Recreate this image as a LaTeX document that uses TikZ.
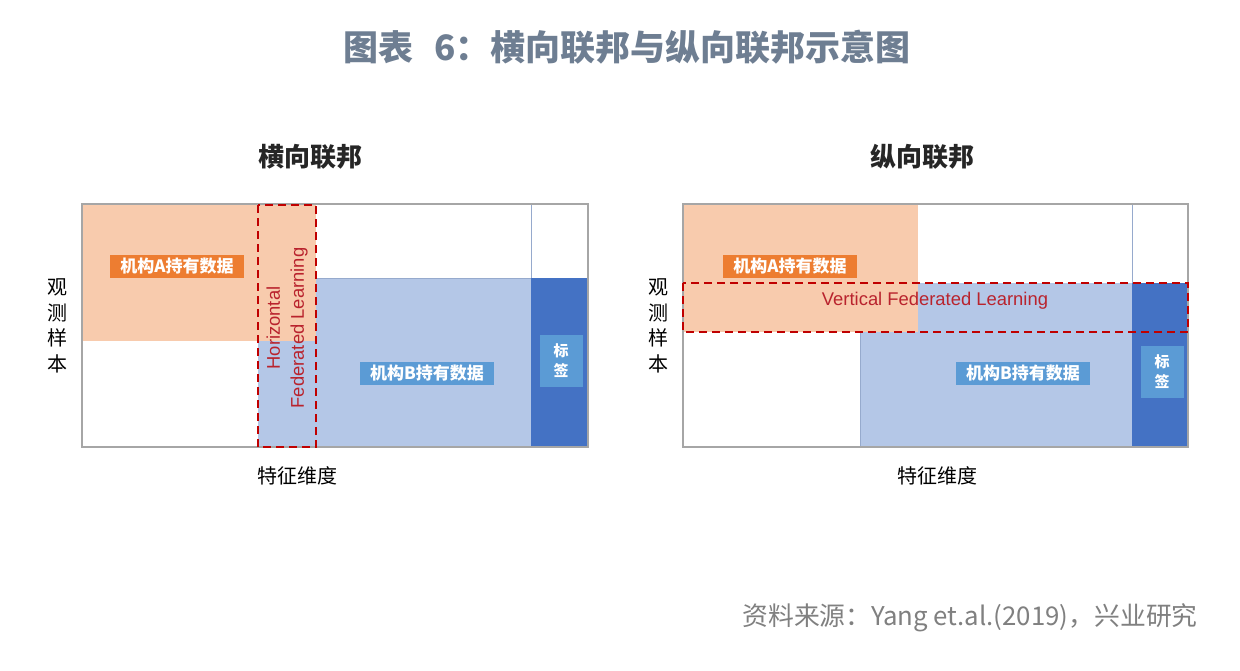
\documentclass[tikz,border=0pt]{standalone}
\usepackage{fontspec}
\setmainfont{Liberation Sans}
\newfontfamily\cjk{Noto Sans CJK SC}
\usepackage{tikz}

\definecolor{orgLight}{RGB}{248,203,173}
\definecolor{orgTag}{RGB}{237,125,49}
\definecolor{bluLight}{RGB}{180,199,231}
\definecolor{bluDark}{RGB}{68,114,196}
\definecolor{bluTag}{RGB}{91,155,213}
\definecolor{redDash}{RGB}{192,0,0}
\definecolor{redText}{RGB}{185,35,45}
\definecolor{frameCol}{RGB}{166,166,166}
\definecolor{gridCol}{RGB}{150,170,205}
\definecolor{titleCol}{RGB}{110,126,146}
\definecolor{srcCol}{RGB}{128,128,128}

\begin{document}
\begin{tikzpicture}[
	x=0.5pt, y=-0.5pt,
	tagbox/.style={inner sep=0pt, minimum width=67pt, minimum height=11.5pt, text=white, font=\cjk\bfseries\fontsize{8.5}{10}\selectfont},
	labbox/.style={fill=bluTag, inner sep=0pt, minimum width=21.5pt, minimum height=26pt, text=white, align=center, font=\cjk\bfseries\fontsize{7.5}{10}\selectfont},
	fedbox/.style={draw=redDash, line width=1.3pt, dash pattern=on 4pt off 2.5pt},
	fedtxt/.style={text=redText, align=center, font=\fontsize{9.2}{12}\selectfont},
	frame/.style={draw=frameCol, line width=0.6pt},
	grid/.style={draw=gridCol, line width=0.5pt},
	ptitle/.style={text=black!85, font=\cjk\bfseries\fontsize{13}{15}\selectfont},
	axis/.style={align=center, font=\cjk\fontsize{10}{12.8}\selectfont}
	]
	\useasboundingbox (0,0) rectangle (1240,670);
	\fill[white] (0,0) rectangle (1240,670);

	\node[text=titleCol, font=\cjk\bfseries\fontsize{17.5}{20}\selectfont] (titleMain) at (627,47) {图表\hspace{0.6em}6：横向联邦与纵向联邦示意图};

	\fill[bluLight] (258,278) rectangle (531,447);
	\fill[bluDark] (531,278) rectangle (588,447);
	\fill[orgLight] (82,204) rectangle (316,341);
	\draw[grid] (531,204) -- (531,278);
	\draw[grid] (316,278) -- (531,278);
	\draw[frame] (82,204) rectangle (588,447);
	\draw[fedbox] (258,205) rectangle (316,447);

	\node[ptitle] (hzTitle) at (310,157) {横向联邦};
	\node[axis] (hzAxisY) at (57,326) {观\\测\\样\\本};
	\node[axis] (hzAxisX) at (297,476) {特征维度};
	\node[tagbox, fill=orgTag] (hzTagA) at (177,266) {机构A持有数据};
	\node[tagbox, fill=bluTag] (hzTagB) at (427,373) {机构B持有数据};
	\node[labbox] (hzLabel) at (561,361) {标\\签};
	\node[fedtxt, rotate=90] (hzFed) at (287,328) {Horizontal\\Federated Learning};

	\fill[bluLight] (860,283) rectangle (1132,447);
	\fill[bluDark] (1132,283) rectangle (1188,447);
	\fill[orgLight] (683,204) rectangle (918,332);
	\draw[grid] (1132,204) -- (1132,283);
	\draw[grid] (860,332) -- (860,447);
	\draw[frame] (683,204) rectangle (1188,447);
	\draw[fedbox] (683,283) rectangle (1188,332);

	\node[ptitle] (vtTitle) at (922,157) {纵向联邦};
	\node[axis] (vtAxisY) at (658,326) {观\\测\\样\\本};
	\node[axis] (vtAxisX) at (937,476) {特征维度};
	\node[tagbox, fill=orgTag] (vtTagA) at (790,266) {机构A持有数据};
	\node[tagbox, fill=bluTag] (vtTagB) at (1023,373) {机构B持有数据};
	\node[labbox] (vtLabel) at (1162,372) {标\\签};
	\node[fedtxt] (vtFed) at (935,301) {Vertical Federated Learning};

	\node[anchor=east, inner sep=0pt, text=srcCol, font=\cjk\fontsize{12.9}{15}\selectfont] (srcNote) at (1198,618) {资料来源：Yang et.al.(2019)，兴业研究};
\end{tikzpicture}
\end{document}
